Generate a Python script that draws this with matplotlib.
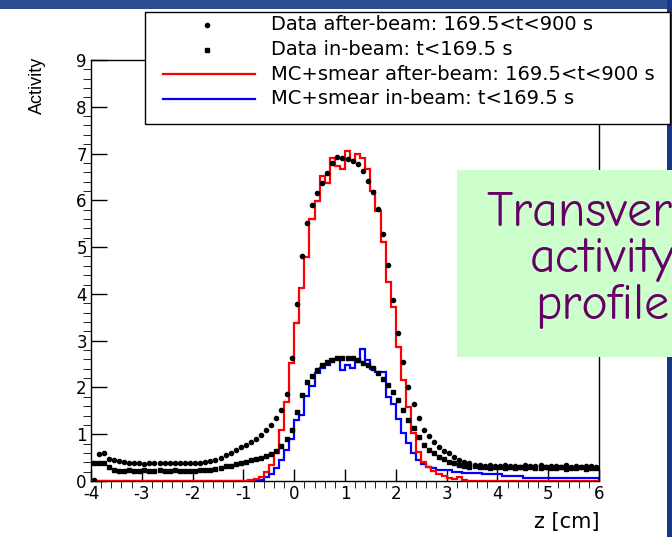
import numpy as np
import matplotlib
matplotlib.use("Agg")
import matplotlib.pyplot as plt
from matplotlib.patches import Rectangle
from matplotlib.lines import Line2D

plt.rcParams["font.family"] = ["DejaVu Sans"]
plt.rcParams["axes.unicode_minus"] = False

W, H = 672, 537

# 100 bins of 0.1 cm between -4 and 6
edges = np.round(np.arange(-4.0, 6.01, 0.1), 2)
centers = edges[:-1] + 0.05

data_after = [
    0.02, 0.58, 0.60, 0.48, 0.45, 0.42, 0.40, 0.39, 0.38, 0.38,
    0.37, 0.38, 0.38, 0.39, 0.39, 0.38, 0.39, 0.39, 0.38, 0.38,
    0.39, 0.39, 0.40, 0.42, 0.45, 0.49, 0.55, 0.60, 0.66, 0.72,
    0.77, 0.83, 0.90, 0.98, 1.08, 1.20, 1.34, 1.52, 1.86, 2.62,
    3.78, 4.82, 5.52, 5.90, 6.16, 6.38, 6.59, 6.79, 6.93, 6.91,
    6.88, 6.84, 6.77, 6.62, 6.42, 6.17, 5.81, 5.28, 4.62, 3.86,
    3.16, 2.55, 2.02, 1.64, 1.34, 1.10, 0.96, 0.84, 0.73, 0.65,
    0.59, 0.52, 0.45, 0.40, 0.38, 0.35, 0.34, 0.33, 0.35, 0.32,
    0.33, 0.34, 0.31, 0.33, 0.30, 0.34, 0.32, 0.31, 0.35, 0.30,
    0.33, 0.31, 0.29, 0.34, 0.30, 0.32, 0.29, 0.31, 0.33, 0.30,
]
data_in = [
    0.38, 0.38, 0.38, 0.30, 0.24, 0.22, 0.22, 0.23, 0.22, 0.22,
    0.23, 0.22, 0.22, 0.23, 0.22, 0.22, 0.23, 0.22, 0.22, 0.22,
    0.22, 0.23, 0.23, 0.24, 0.25, 0.28, 0.31, 0.33, 0.36, 0.39,
    0.41, 0.44, 0.47, 0.50, 0.54, 0.58, 0.64, 0.74, 0.90, 1.10,
    1.48, 1.84, 2.12, 2.24, 2.37, 2.48, 2.54, 2.59, 2.62, 2.64,
    2.64, 2.62, 2.59, 2.53, 2.48, 2.41, 2.30, 2.19, 2.05, 1.91,
    1.73, 1.52, 1.30, 1.13, 0.95, 0.78, 0.67, 0.59, 0.52, 0.46,
    0.41, 0.38, 0.34, 0.31, 0.30, 0.31, 0.29, 0.30, 0.28, 0.30,
    0.29, 0.27, 0.30, 0.28, 0.29, 0.27, 0.30, 0.28, 0.27, 0.29,
    0.28, 0.27, 0.29, 0.26, 0.28, 0.27, 0.29, 0.26, 0.28, 0.27,
]
mc_after = [
    0, 0, 0, 0, 0, 0, 0, 0, 0, 0,
    0, 0, 0, 0, 0, 0, 0, 0, 0, 0,
    0, 0, 0, 0, 0, 0, 0, 0, 0, 0,
    0.0, 0.02, 0.04, 0.08, 0.20, 0.34, 0.60, 1.09, 1.69, 2.52,
    3.37, 4.12, 4.78, 5.60, 5.99, 6.53, 6.38, 6.91, 6.73, 6.66,
    7.06, 6.87, 6.98, 6.91, 6.66, 6.19, 5.78, 5.10, 4.26, 3.72,
    2.87, 2.16, 1.59, 1.02, 0.63, 0.40, 0.30, 0.22, 0.14, 0.10,
    0.06, 0.04, 0.08, 0.02, 0, 0, 0, 0, 0, 0,
    0, 0, 0, 0, 0, 0, 0, 0, 0, 0,
    0, 0, 0, 0, 0, 0, 0, 0, 0, 0,
]
mc_in = [
    0, 0, 0, 0, 0, 0, 0, 0, 0, 0,
    0, 0, 0, 0, 0, 0, 0, 0, 0, 0,
    0, 0, 0, 0, 0, 0, 0, 0, 0, 0,
    0, 0, 0.01, 0.03, 0.09, 0.16, 0.27, 0.45, 0.66, 0.89,
    1.30, 1.41, 1.82, 2.03, 2.31, 2.42, 2.48, 2.60, 2.60, 2.37,
    2.47, 2.41, 2.55, 2.83, 2.59, 2.40, 2.33, 2.33, 1.80, 1.65,
    1.32, 1.02, 0.82, 0.59, 0.45, 0.36, 0.30, 0.27, 0.24, 0.23,
    0.24, 0.20, 0.20, 0.17, 0.17, 0.17, 0.17, 0.15, 0.15, 0.15,
    0.15, 0.11, 0.11, 0.11, 0.11, 0.07, 0.07, 0.07, 0.07, 0.07,
    0.06, 0.06, 0.06, 0.06, 0.06, 0.06, 0.06, 0.06, 0.06, 0.06,
]

legend_labels = [
    "Data after-beam: 169.5<t<900 s",
    "Data in-beam: t<169.5 s",
    "MC+smear after-beam: 169.5<t<900 s",
    "MC+smear in-beam: t<169.5 s",
]


def fx(px):
    return px / W


def fy(py):
    return 1 - py / H


fig = plt.figure(figsize=(W / 100, H / 100), dpi=100)

# slide decoration: top bar and right border
fig.patches.append(Rectangle((0, fy(9)), 1, 9 / H, transform=fig.transFigure,
                             facecolor="#2c4c92", edgecolor="none", zorder=0))
fig.patches.append(Rectangle((fx(667), 0), 5 / W, 1, transform=fig.transFigure,
                             facecolor="#173785", edgecolor="none", zorder=0))

ax = fig.add_axes([fx(91), fy(481), 508 / W, 421 / H])
ax.stairs(mc_in, edges, color="#0000ff", lw=1.6, zorder=2)
ax.stairs(mc_after, edges, color="#ff0000", lw=1.6, zorder=3)
ax.plot(centers, data_after, "o", color="black", ms=3.0, ls="none", zorder=4)
ax.plot(centers, data_in, "s", color="black", ms=2.7, ls="none", zorder=4)

ax.set_xlim(-4, 6)
ax.set_ylim(0, 9)
ax.set_xticks(np.arange(-4, 7, 1))
ax.set_xticks(np.arange(-4, 6.01, 0.2), minor=True)
ax.set_yticks(np.arange(0, 10, 1))
ax.set_yticks(np.arange(0, 9.01, 0.2), minor=True)
ax.tick_params(direction="in", labelsize=12, pad=3, width=1)
ax.tick_params(axis="x", which="major", length=8.5)
ax.tick_params(axis="x", which="minor", length=5)
ax.tick_params(axis="y", which="major", length=11.5)
ax.tick_params(axis="y", which="minor", length=5.8)
for s in ax.spines.values():
    s.set_linewidth(1)

fig.text(fx(37), fy(57), "Activity", rotation=90, ha="center", va="top",
         fontsize=13, family=["Liberation Sans", "DejaVu Sans"])
fig.text(fx(599), fy(528), "z [cm]", ha="right", va="baseline", fontsize=15)

# legend box drawn by hand (ROOT TLegend look)
fig.patches.append(Rectangle((fx(145), fy(124)), 525 / W, 112 / H,
                             transform=fig.transFigure, facecolor="white",
                             edgecolor="black", lw=1, zorder=7))
rows = [25, 49.5, 74, 98.5]
fig.add_artist(Line2D([fx(207)], [fy(rows[0])], marker="o", ms=3.0, color="black",
                      ls="none", zorder=8))
fig.add_artist(Line2D([fx(207)], [fy(rows[1])], marker="s", ms=2.7, color="black",
                      ls="none", zorder=8))
fig.add_artist(Line2D([fx(163), fx(255)], [fy(rows[2])] * 2, color="#ff0000",
                      lw=1.6, zorder=8))
fig.add_artist(Line2D([fx(163), fx(255)], [fy(rows[3])] * 2, color="#0000ff",
                      lw=1.6, zorder=8))
for r, lab in zip(rows, legend_labels):
    fig.text(fx(271), fy(r), lab, ha="left", va="center", fontsize=14, zorder=9)

# green note box from the slide
fig.patches.append(Rectangle((fx(457), fy(357)), 215 / W, 187 / H,
                             transform=fig.transFigure, facecolor="#ccffcc",
                             edgecolor="none", zorder=5))
fig.text(fx(602), fy(260), "Transverse\nactivity\nprofile", ha="center",
         va="center", fontsize=36, color="#660066", linespacing=1.05, zorder=6,
         family=["Comic Neue", "DejaVu Sans"])

fig.savefig("out.png", dpi=100)
